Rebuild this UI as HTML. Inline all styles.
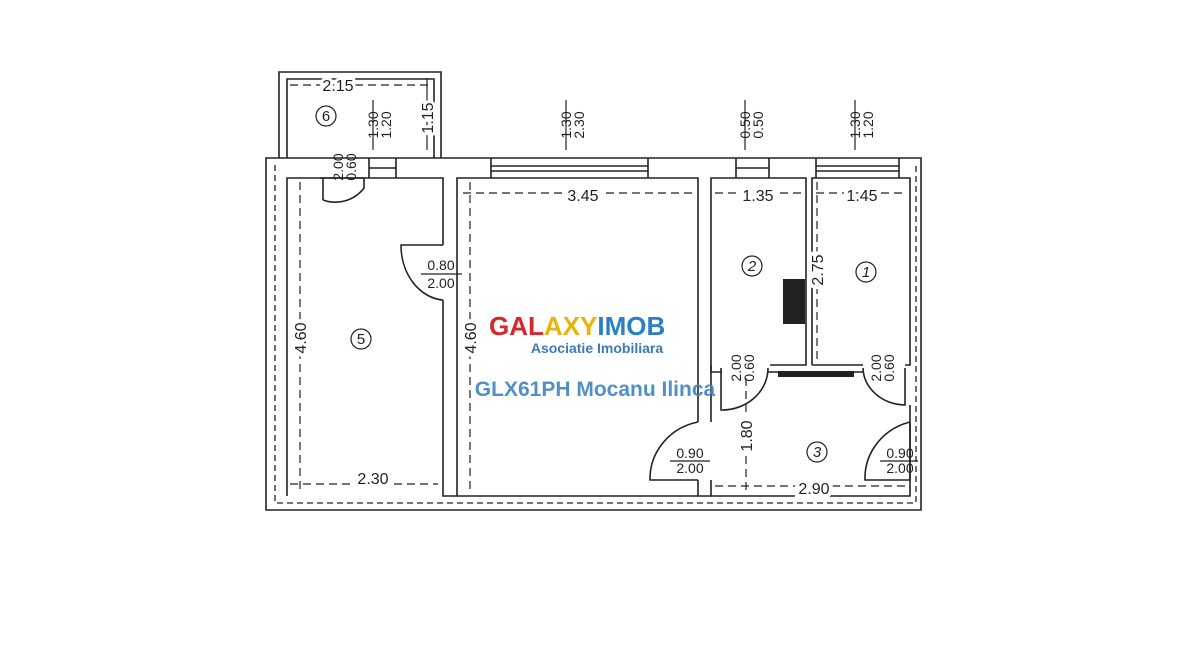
<!DOCTYPE html>
<html><head><meta charset="utf-8"><style>
html,body{margin:0;padding:0;background:#fff;}
svg{display:block;}
text{font-family:"Liberation Sans",sans-serif;}
</style></head><body>
<svg width="1200" height="660" viewBox="0 0 1200 660" xmlns="http://www.w3.org/2000/svg">
<rect width="1200" height="660" fill="#fff"/>
<g stroke="#222" stroke-width="1.6" fill="none">
<path d="M279 158 V72 H441 V158"/>
<path d="M287 158 V79 H434 V158"/>
<path d="M266 158 H921 V510 H266 Z"/>
<path d="M287 496 V178 H443 V245"/>
<path d="M443 300 V496 H457 V178 H698 V422"/>
<path d="M698 480 V496 H711 V480"/>
<path d="M711 422 V178 H806 V365 H770"/>
<path d="M812 365 V178 H910 V365 H905"/>
<path d="M910 405 V496 H711"/>
<path d="M457 496 H698"/>
<path d="M711 365 V372 H721 M711 372 H722"/>
<path d="M768 372 H863 M863 365 H812"/>
<path d="M275 165 V503 H916 V165" stroke-dasharray="6 4" stroke-width="1.3"/>
<path d="M369 158 V178 M396 158 V178 M369 168 H396"/>
<path d="M491 158 V178 M648 158 V178 M491 166 H648 M491 171 H648"/>
<path d="M736 158 V178 M769 158 V178 M736 168 H769"/>
<path d="M816 158 V178 M899 158 V178 M816 166 H899 M816 171 H899"/>
<path d="M364 178 V188 A36 36 0 0 1 323 200 M323 200 V178" />
<path d="M320 178 L364 178"/>
<path d="M443 245 H401 A45 55 0 0 0 443 300"/>
<path d="M698 422 A60 58 0 0 0 650 480 H698"/>
<path d="M910 422 A60 58 0 0 0 865 480 H910 V422"/>
<path d="M721 368 V410 A46 42 0 0 0 768 368"/>
<path d="M905 368 V405 A43 38 0 0 1 863 368"/>
<g stroke-width="1.2" stroke-dasharray="8 5">
<path d="M290 85 H430"/>
<path d="M463 193 H694"/>
<path d="M715 193 H802"/>
<path d="M816 193 H906"/>
<path d="M300 182 V492"/>
<path d="M470 182 V492"/>
<path d="M817 182 V362"/>
<path d="M746 378 V492"/>
<path d="M290 484 H438"/>
<path d="M715 486 H906"/>
</g>
<path d="M373 100 V150 M427 78 V150 M566 100 V150 M745 100 V150 M855 100 V150" stroke-width="1.2"/>
</g>
<rect x="783" y="279" width="22" height="45" fill="#222"/>
<rect x="778" y="371" width="76" height="6" fill="#222"/>
<g font-size="16" style="fill:#222">
<text x="338" y="91" text-anchor="middle" fill="#fff" stroke="#fff" stroke-width="6">2.15</text>
<text x="338" y="91" text-anchor="middle">2.15</text>
<text x="583" y="201" text-anchor="middle" stroke="#fff" stroke-width="8">3.45</text>
<text x="583" y="201" text-anchor="middle">3.45</text>
<text x="758" y="201" text-anchor="middle" stroke="#fff" stroke-width="8">1.35</text>
<text x="758" y="201" text-anchor="middle">1.35</text>
<text x="862" y="201" text-anchor="middle" stroke="#fff" stroke-width="8">1.45</text>
<text x="862" y="201" text-anchor="middle">1.45</text>
<text x="373" y="484" text-anchor="middle" stroke="#fff" stroke-width="8">2.30</text>
<text x="373" y="484" text-anchor="middle">2.30</text>
<text x="814" y="494" text-anchor="middle" stroke="#fff" stroke-width="8">2.90</text>
<text x="814" y="494" text-anchor="middle">2.90</text>
<text transform="translate(306 338) rotate(-90)" text-anchor="middle" stroke="#fff" stroke-width="8">4.60</text>
<text transform="translate(306 338) rotate(-90)" text-anchor="middle">4.60</text>
<text transform="translate(476 338) rotate(-90)" text-anchor="middle" stroke="#fff" stroke-width="8">4.60</text>
<text transform="translate(476 338) rotate(-90)" text-anchor="middle">4.60</text>
<text transform="translate(823 270) rotate(-90)" text-anchor="middle" stroke="#fff" stroke-width="8">2.75</text>
<text transform="translate(823 270) rotate(-90)" text-anchor="middle">2.75</text>
<text transform="translate(752 436) rotate(-90)" text-anchor="middle" stroke="#fff" stroke-width="8">1.80</text>
<text transform="translate(752 436) rotate(-90)" text-anchor="middle">1.80</text>
<text transform="translate(433 118) rotate(-90)" text-anchor="middle" stroke="#fff" stroke-width="6">1.15</text>
<text transform="translate(433 118) rotate(-90)" text-anchor="middle">1.15</text>
</g>
<g font-size="14" style="fill:#222">
<text transform="translate(378 125) rotate(-90)" text-anchor="middle">1.30</text>
<text transform="translate(391 125) rotate(-90)" text-anchor="middle">1.20</text>
<text transform="translate(571 125) rotate(-90)" text-anchor="middle">1.30</text>
<text transform="translate(584 125) rotate(-90)" text-anchor="middle">2.30</text>
<text transform="translate(750 125) rotate(-90)" text-anchor="middle">0.50</text>
<text transform="translate(763 125) rotate(-90)" text-anchor="middle">0.50</text>
<text transform="translate(860 125) rotate(-90)" text-anchor="middle">1.30</text>
<text transform="translate(873 125) rotate(-90)" text-anchor="middle">1.20</text>
<text transform="translate(343 167) rotate(-90)" text-anchor="middle">2.00</text>
<text transform="translate(356 167) rotate(-90)" text-anchor="middle">0.60</text>
<text transform="translate(741 368) rotate(-90)" text-anchor="middle">2.00</text>
<text transform="translate(754 368) rotate(-90)" text-anchor="middle">0.60</text>
<text transform="translate(881 368) rotate(-90)" text-anchor="middle">2.00</text>
<text transform="translate(894 368) rotate(-90)" text-anchor="middle">0.60</text>
<text x="441" y="270" text-anchor="middle">0.80</text>
<text x="441" y="288" text-anchor="middle">2.00</text>
<text x="690" y="458" text-anchor="middle">0.90</text>
<text x="690" y="473" text-anchor="middle">2.00</text>
<text x="900" y="458" text-anchor="middle">0.90</text>
<text x="900" y="473" text-anchor="middle">2.00</text>
</g>
<g stroke="#222" stroke-width="1.2" fill="none">
<path d="M421 274 H462 M670 461 H710 M880 461 H918"/>
<circle cx="326" cy="116" r="10"/><circle cx="361" cy="339" r="10"/>
<circle cx="752" cy="266" r="10"/><circle cx="866" cy="272" r="10"/>
<circle cx="817" cy="452" r="10"/>
</g>
<g font-size="15" text-anchor="middle" style="fill:#222">
<text x="326" y="121">6</text><text x="361" y="344">5</text>
<text x="752" y="271" font-style="italic">2</text><text x="866" y="277" font-style="italic">1</text>
<text x="817" y="457" font-style="italic">3</text>
</g>
<text x="489" y="335" font-size="26" font-weight="bold"><tspan style="fill:#d8262b">GAL</tspan><tspan style="fill:#e7b40d">AXY</tspan><tspan style="fill:#2a7fc7">IMOB</tspan></text>
<text x="597" y="353" font-size="14" font-weight="bold" text-anchor="middle" style="fill:#3b7bb5">Asociatie Imobiliara</text>
<text x="595" y="396" font-size="21" font-weight="bold" text-anchor="middle" style="fill:#3f84c2" opacity="0.9">GLX61PH Mocanu Ilinca</text>
</svg>
</body></html>
